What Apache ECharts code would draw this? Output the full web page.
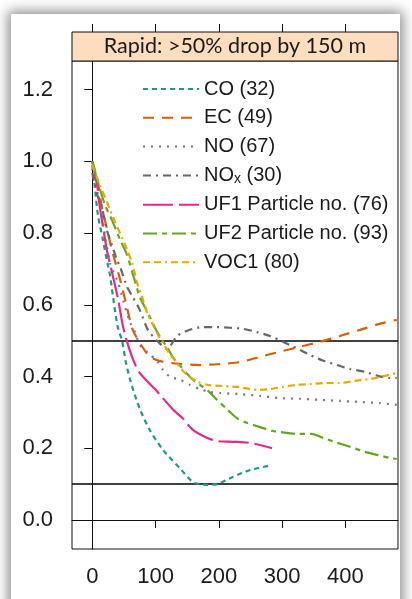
<!DOCTYPE html>
<html>
<head>
<meta charset="utf-8">
<script src="https://cdn.jsdelivr.net/npm/echarts@6/dist/echarts.min.js"></script>
<style>
html,body{margin:0;padding:0;background:#fff;width:412px;height:599px;overflow:hidden;}
#card{position:absolute;left:11px;top:14px;width:389px;height:640px;background:#fff;box-shadow:0 0 12px 3px rgba(0,0,0,0.45);}
#chart{position:absolute;left:0;top:0;width:412px;height:599px;}
</style>
</head>
<body>
<div id="card"></div>
<div id="chart"></div>
<script>
// ---- data ----
var seriesNames = ['CO (32)', 'EC (49)', 'NO (67)', 'NOx (30)', 'UF1 Particle no. (76)', 'UF2 Particle no. (93)', 'VOC1 (80)'];
var xTicks = [0, 100, 200, 300, 400];
var yTicks = [0, 0.2, 0.4, 0.6, 0.8, 1.0, 1.2];
var refLines = [0.5, 0.1];
var stripTitle = 'Rapid: >50% drop by 150 m';

var coX = [0,4,9,17,23,28,33,40,47,53,60,67,75,91,112,138,159,181,197,222,249,284];
var coY = [0.99,0.93,0.85,0.78,0.725,0.683,0.62,0.54,0.50,0.44,0.39,0.35,0.31,0.25,0.195,0.145,0.106,0.098,0.1,0.12,0.139,0.153];

var ecX = [0,8,15,23,31,39,47,55,64,79,91,107,139,170,202,233,265,296,328,360,391,423,454,481];
var ecY = [1.0,0.95,0.873,0.814,0.753,0.703,0.65,0.591,0.53,0.483,0.455,0.443,0.435,0.432,0.435,0.44,0.455,0.469,0.483,0.497,0.513,0.53,0.547,0.558];

var noX = [0,12,28,41,50,60,68,75,88,102,112,123,139,154,170,186,202,233,265,296,328,360,391,423,454,481];
var noY = [0.98,0.88,0.717,0.661,0.605,0.55,0.522,0.488,0.466,0.444,0.418,0.399,0.391,0.377,0.365,0.357,0.354,0.351,0.346,0.34,0.338,0.335,0.332,0.329,0.326,0.321];

var noxX = [0,7,15,23,31,39,44,55,64,75,88,104,118,134,153,175,197,218,238,260,281,301,322,344,365,387,407,431,451,470,481];
var noxY = [0.968,0.912,0.873,0.809,0.767,0.725,0.706,0.65,0.622,0.586,0.53,0.497,0.477,0.513,0.53,0.538,0.538,0.536,0.533,0.524,0.513,0.497,0.48,0.46,0.444,0.432,0.421,0.413,0.402,0.396,0.396];

var uf1X = [0,8,12,17,23,31,41,49,60,72,86,99,110,128,142,159,181,197,222,249,265,284];
var uf1Y = [1.0,0.929,0.873,0.817,0.753,0.692,0.614,0.536,0.469,0.418,0.388,0.365,0.343,0.307,0.285,0.251,0.229,0.22,0.218,0.215,0.209,0.2];

var uf2X = [0,7,20,31,44,55,63,67,75,83,91,99,110,118,127,139,150,159,170,183,197,214,230,244,265,285,307,325,347,360,382,407,431,451,470,481];
var uf2Y = [1.0,0.954,0.879,0.837,0.781,0.739,0.692,0.669,0.622,0.594,0.566,0.536,0.502,0.483,0.455,0.43,0.407,0.391,0.377,0.36,0.335,0.307,0.282,0.271,0.259,0.248,0.243,0.24,0.24,0.232,0.218,0.204,0.19,0.181,0.173,0.17];

var voc1X = [0,12,25,36,47,56,63,71,79,88,96,104,112,120,131,142,154,167,181,202,229,249,262,281,301,323,344,368,391,415,439,462,481];
var voc1Y = [0.99,0.934,0.879,0.831,0.787,0.748,0.717,0.66,0.62,0.572,0.544,0.516,0.494,0.469,0.444,0.418,0.399,0.385,0.377,0.374,0.371,0.365,0.363,0.365,0.371,0.377,0.379,0.382,0.382,0.388,0.393,0.402,0.41];

// ---- styles ----
var colors = ['#1B9E77', '#D95F02', '#7570B3', '#666666', '#E7298A', '#66A61E', '#E6AB02'];
var dashes = [[5,4], [11,8], [2,6], [8,5,2,5], [30,6], [14,5,5,5], [7,4,7,4,2,4]];

var xs = [coX, ecX, noX, noxX, uf1X, uf2X, voc1X];
var ys = [coY, ecY, noY, noxY, uf1Y, uf2Y, voc1Y];

var GL = 72, GR = 14, GT = 61, GB = 50, STRIP = 29, W = 412;
var font = "'Liberation Sans', Arial, sans-serif";

function pairs(a, b) { return a.map(function (v, i) { return [v, b[i]]; }); }

var series = seriesNames.map(function (n, i) {
  var s = {
    name: n, type: 'line', data: pairs(xs[i], ys[i]), symbol: 'none', smooth: 0.25,
    lineStyle: { color: colors[i], width: 2.2, type: dashes[i] },
    itemStyle: { color: colors[i] }, z: 3
  };
  if (i === 0) {
    s.markLine = {
      silent: true, symbol: 'none', label: { show: false },
      lineStyle: { color: '#000', type: 'solid', width: 1.5 },
      data: refLines.map(function (v) { return { yAxis: v }; }), z: 2
    };
  }
  return s;
});

var chart = echarts.init(document.getElementById('chart'), null, { renderer: 'canvas' });
chart.setOption({
  animation: false,
  grid: { left: GL, right: GR, top: GT, bottom: GB, show: true, borderColor: '#111', borderWidth: 1, backgroundColor: 'transparent' },
  legend: {
    orient: 'vertical', left: 137, top: 74, itemWidth: 56, itemHeight: 14, itemGap: 8.8,
    selectedMode: false,
    itemStyle: { opacity: 0 },
    textStyle: { fontFamily: font, fontSize: 20, color: '#1a1a1a', rich: {
      t: { fontFamily: font, fontSize: 20, color: '#1a1a1a', lineHeight: 21 },
      s: { fontFamily: font, fontSize: 14, color: '#1a1a1a', lineHeight: 13, verticalAlign: 'bottom' }
    } },
    formatter: function (n) {
      if (n.indexOf('NOx') === 0) return '{t|NO}{s|x}{t|' + n.slice(3) + '}';
      return '{t|' + n + '}';
    },
    data: seriesNames
  },
  xAxis: [{
    type: 'value', min: -32, max: 483,
    axisLine: { show: true, lineStyle: { color: '#111' } },
    axisTick: { show: true, length: 8, customValues: xTicks, lineStyle: { color: '#111' } },
    axisLabel: { customValues: xTicks, fontFamily: font, fontSize: 22, color: '#1a1a1a', margin: 17 },
    splitLine: { show: false }
  }, {
    type: 'value', min: -32, max: 483, position: 'top', offset: STRIP,
    axisLine: { show: false },
    axisTick: { show: true, length: 8, customValues: xTicks, lineStyle: { color: '#111' } },
    axisLabel: { show: false, customValues: xTicks },
    splitLine: { show: false }
  }],
  yAxis: {
    type: 'value', min: -0.081, max: 1.28,
    axisLine: { show: true, lineStyle: { color: '#111' } },
    axisTick: { show: true, length: 8, customValues: yTicks, lineStyle: { color: '#111' } },
    axisLabel: { customValues: yTicks, fontFamily: font, fontSize: 22, color: '#1a1a1a', margin: 19,
      formatter: function (v) { return v.toFixed(1); } },
    splitLine: { show: false }
  },
  graphic: [{
    type: 'rect', z: 10,
    shape: { x: GL, y: GT - STRIP, width: W - GL - GR, height: STRIP },
    style: { fill: '#FCDDBE', stroke: '#111', lineWidth: 1 }
  }, {
    type: 'text', z: 11,
    x: GL + (W - GL - GR) / 2, y: GT - STRIP / 2,
    style: { text: stripTitle, fontFamily: 'Lato, sans-serif', fontSize: 21.5, fill: '#1a1a1a', align: 'center', verticalAlign: 'middle' }
  }],
  series: series
});
</script>
</body>
</html>
